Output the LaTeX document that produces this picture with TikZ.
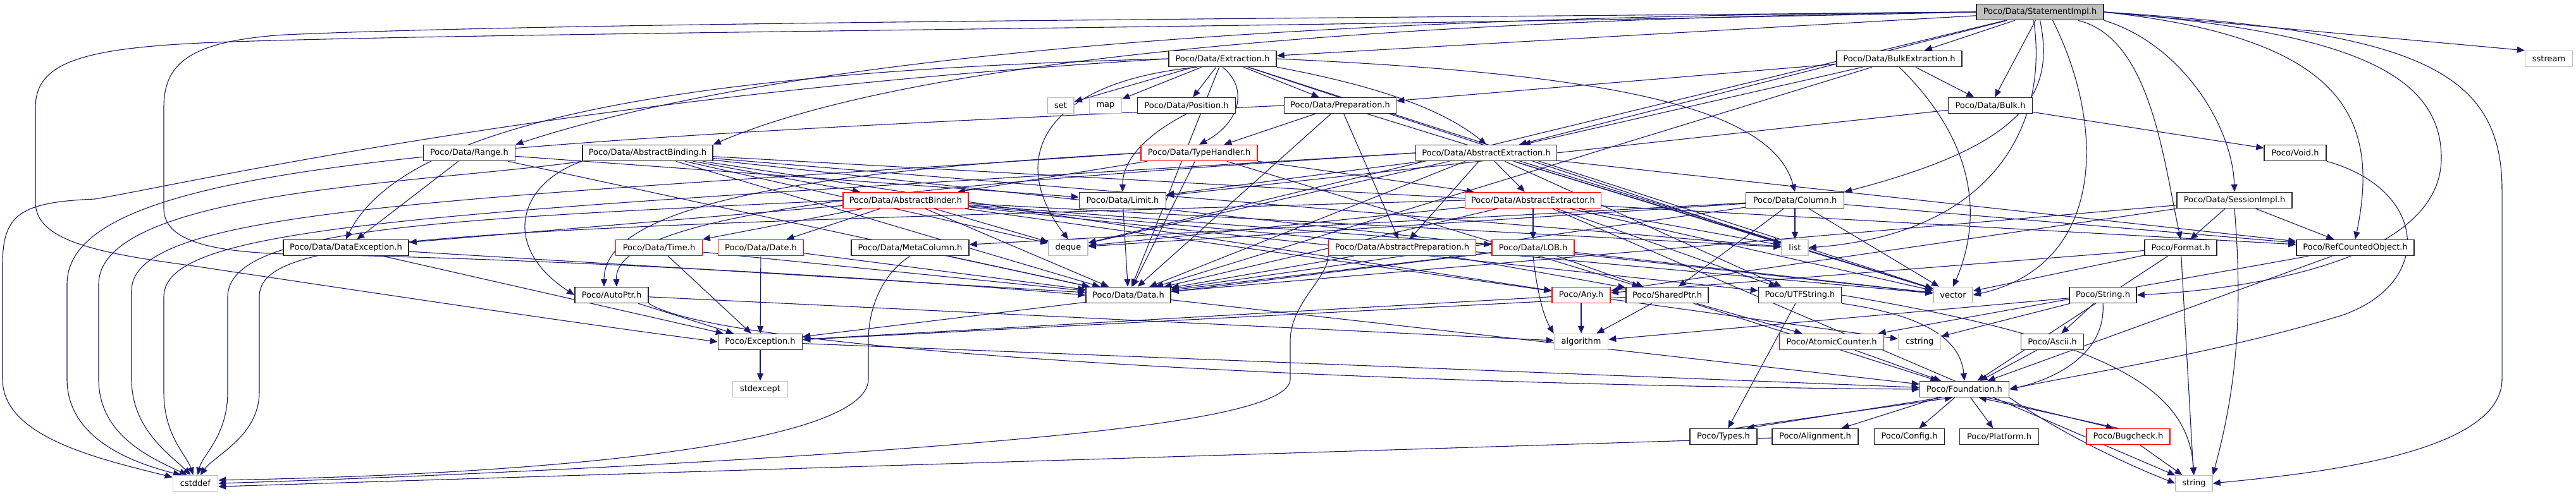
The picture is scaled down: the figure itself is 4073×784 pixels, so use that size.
\documentclass[tikz,border=0pt]{standalone}
\usepackage{fontspec}
\setmainfont{DejaVu Sans}
\usetikzlibrary{arrows.meta}
\pgfdeclarelayer{background}
\pgfsetlayers{background,main}
\definecolor{edgec}{RGB}{25,25,112}
\definecolor{leafc}{RGB}{191,191,191}
\definecolor{redc}{RGB}{255,0,0}
\begin{document}
\begin{tikzpicture}[x=0.5pt,y=-0.5pt,
  nd/.style={draw=black!85, line width=0.75pt, minimum height=12.5pt, inner sep=0pt, font=\fontsize{6.5pt}{7pt}\selectfont, fill=white},
  bx/.style={nd},
  rbx/.style={nd, draw=redc},
  lf/.style={nd, draw=leafc},
  wd/.style={minimum width=#1*0.5pt},
  e/.style={draw=edgec, line width=0.55pt, -{Triangle[length=6pt,width=5pt]}}
]
\useasboundingbox (0,0) rectangle (4073,784);
% row 0
\node[bx, fill=leafc, wd=201] (S) at (3225.5,19) {Poco/Data/StatementImpl.h};
% row 1
\node[bx, wd=170] (ext) at (1933,93) {Poco/Data/Extraction.h};
\node[bx, wd=198] (bext) at (3003,93) {Poco/Data/BulkExtraction.h};
\node[lf, wd=75] (sstream) at (4030,93) {sstream};
% row 2
\node[lf, wd=42] (set) at (1677,167) {set};
\node[lf, wd=51] (map) at (1748,167) {map};
\node[bx, wd=155] (pos) at (1876,167) {Poco/Data/Position.h};
\node[bx, wd=177] (prep) at (2119,167) {Poco/Data/Preparation.h};
\node[bx, wd=133] (bulk) at (3147,167) {Poco/Data/Bulk.h};
% row 3
\node[bx, wd=145] (range) at (742,242) {Poco/Data/Range.h};
\node[bx, wd=206] (abind) at (1024,242) {Poco/Data/AbstractBinding.h};
\node[rbx, wd=184] (th) at (1896,242) {Poco/Data/TypeHandler.h};
\node[bx, wd=223] (aext) at (2350,242) {Poco/Data/AbstractExtraction.h};
\node[bx, wd=98] (void) at (3629,242) {Poco/Void.h};
% row 4
\node[rbx, wd=198] (abinder) at (1432,317) {Poco/Data/AbstractBinder.h};
\node[bx, wd=137] (limit) at (1775,317) {Poco/Data/Limit.h};
\node[rbx, wd=215] (aextor) at (2424,317) {Poco/Data/AbstractExtractor.h};
\node[bx, wd=155] (column) at (2838,317) {Poco/Data/Column.h};
\node[bx, wd=182] (sess) at (3533,317) {Poco/Data/SessionImpl.h};
% row 5
\node[bx, wd=198] (dexc) at (547,392) {Poco/Data/DataException.h};
\node[rbx, wd=137] (time) at (1042,392) {Poco/Data/Time.h};
\node[rbx, wd=135] (date) at (1203,392) {Poco/Data/Date.h};
\node[bx, wd=186] (meta) at (1439,392) {Poco/Data/MetaColumn.h};
\node[lf, wd=62] (deque) at (1689,392) {deque};
\node[rbx, wd=233] (aprep) at (2217,392) {Poco/Data/AbstractPreparation.h};
\node[rbx, wd=130] (lob) at (2424,392) {Poco/Data/LOB.h};
\node[lf, wd=42] (list) at (2838,392) {list};
\node[bx, wd=114] (format) at (3448,392) {Poco/Format.h};
\node[bx, wd=186] (rco) at (3724,392) {Poco/RefCountedObject.h};
% row 6
\node[bx, wd=116] (autoptr) at (967,467) {Poco/AutoPtr.h};
\node[bx, wd=134] (data) at (1784,467) {Poco/Data/Data.h};
\node[rbx, wd=92] (any) at (2500,467) {Poco/Any.h};
\node[bx, wd=130] (shared) at (2636,467) {Poco/SharedPtr.h};
\node[bx, wd=131] (utf) at (2846,467) {Poco/UTFString.h};
\node[lf, wd=62] (vector) at (3088,467) {vector};
\node[bx, wd=106] (strh) at (3325,467) {Poco/String.h};
% row 7
\node[bx, wd=133] (exc) at (1202,541) {Poco/Exception.h};
\node[lf, wd=85] (algo) at (2500,541) {algorithm};
\node[rbx, wd=165] (atomic) at (2896,541) {Poco/AtomicCounter.h};
\node[lf, wd=67] (cstring) at (3035,541) {cstring};
\node[bx, wd=99] (ascii) at (3245,541) {Poco/Ascii.h};
% row 8
\node[lf, wd=87] (stdexcept) at (1202,616) {stdexcept};
\node[bx, wd=141] (found) at (3106,616) {Poco/Foundation.h};
% row 9
\node[bx, wd=106] (types) at (2725,691) {Poco/Types.h};
\node[bx, wd=136] (align) at (2870,691) {Poco/Alignment.h};
\node[bx, wd=111] (config) at (3019,691) {Poco/Config.h};
\node[bx, wd=125] (platform) at (3161,691) {Poco/Platform.h};
\node[rbx, wd=132] (bug) at (3365,691) {Poco/Bugcheck.h};
% row 10
\node[lf, wd=71] (cstddef) at (309,765) {cstddef};
\node[lf, wd=58] (string) at (3469,765) {string};

\begin{pgfonlayer}{background}
% StatementImpl
\draw[e] (S) -- (ext);
\draw[e] (S) -- (bext);
\draw[e] (S.east) -- (sstream.north west);
\draw[e] (S) -- (bulk);
\draw[e] (S.south) .. controls (3250,150) and (3200,230) .. (column.north east);
\draw[e] (S.south east) .. controls (3450,70) and (3530,200) .. (sess.north);
\draw[e] (S.east) .. controls (3700,60) and (3765,180) .. (rco.north);
\draw[e] (S.east) .. controls (3800,50) and (3956,100) .. (3956,300) -- (3956,600) .. controls (3956,720) and (3650,750) .. (string.east);
\draw[e] ([xshift=30pt]S.south) .. controls (3400,60) and (3420,250) .. (format.north);
\draw[e] (S.east) .. controls (3700,50) and (3860,110) .. (3860,250) .. controls (3860,400) and (3600,455) .. (strh.east);
\draw[e] ([xshift=10pt]S.south) .. controls (3330,200) and (3330,420) .. (vector.east);
\draw[e] ([xshift=-5pt]S.south) .. controls (3240,200) and (3150,370) .. (list.east);
\draw[e] (S) -- (aext);
\draw[e] (S.west) .. controls (2200,30) and (1450,90) .. (abind.north east);
\draw[e] (S.west) .. controls (2200,25) and (1300,70) .. (range.north east);
\draw[e] (S) -- (deque);
\draw[e] (S.west) .. controls (2000,45) and (900,50) .. (400,65) .. controls (150,72) and (56,90) .. (56,170) -- (56,320) .. controls (56,380) and (150,400) .. (300,420) .. controls (600,465) and (900,510) .. (exc.west);
\draw[e] (S.west) .. controls (2000,30) and (900,35) .. (450,55) .. controls (300,65) and (259,100) .. (259,170) -- (259,330) .. controls (259,380) and (330,398) .. (450,402) .. controls (900,410) and (1400,440) .. (data.west);
% Extraction
\draw[e] (ext) -- (set);
\draw[e] (ext) -- (map);
\draw[e] (ext) -- (pos);
\draw[e] (ext.south) .. controls (1975,140) and (1960,195) .. (th.north);
\draw[e] (ext) -- (prep);
\draw[e] (ext.south east) .. controls (2200,140) and (2290,180) .. (aext.north);
\draw[e] ([xshift=-20pt]ext.south) .. controls (1650,130) and (1590,250) .. (deque.north);
\draw[e] (ext.east) .. controls (2500,115) and (2800,160) .. (column.north);
\draw[e] (ext) -- (list);
\draw[e] (ext) -- (vector);
\draw[e] (ext.west) .. controls (1200,110) and (650,170) .. (dexc.north);
\draw[e] (ext) -- (data);
\draw[e] (ext.west) .. controls (900,150) and (300,290) .. (150,315) .. controls (30,320) and (4,340) .. (4,420) -- (4,600) .. controls (4,690) and (150,725) .. (cstddef.165);
% BulkExtraction
\draw[e] (bext) -- (bulk);
\draw[e] (bext) -- (prep);
\draw[e] (bext) -- (aext);
\draw[e] (bext) -- (data);
\draw[e] (bext.south) .. controls (3150,250) and (3120,380) .. (vector.north);
% Preparation
\draw[e] (prep) -- (aprep);
\draw[e] (prep) -- (th);
\draw[e] (prep) -- (data);
\draw[e] (prep) -- (vector);
\draw[e] (prep.west) .. controls (700,227) and (106,260) .. (106,450) -- (106,600) .. controls (106,690) and (200,730) .. (cstddef.150);
% Position, Bulk, Range
\draw[e] (pos.south) .. controls (1800,220) and (1775,260) .. (limit.north);
\draw[e] (bulk) -- (void);
\draw[e] (bulk) -- (limit);
\draw[e] (range) -- (limit);
\draw[e] (range) -- (data);
\draw[e] (range) -- (dexc);
% AbstractBinding
\draw[e] (abind) -- (abinder);
\draw[e] (abind) -- (any);
\draw[e] (abind) -- (rco);
\draw[e] (abind) -- (vector);
\draw[e] (abind) -- (list);
\draw[e] (abind) -- (deque);
\draw[e] (abind) -- (data);
\draw[e] (abind.south west) .. controls (820,290) and (790,390) .. (autoptr.west);
\draw[e] (abind.south west) .. controls (680,290) and (156,300) .. (156,450) -- (156,600) .. controls (156,690) and (240,725) .. (cstddef.135);
% TypeHandler
\draw[e] (th) -- (abinder);
\draw[e] (th) -- (aextor);
\draw[e] (th.west) .. controls (1300,270) and (955,320) .. ([xshift=-6pt]autoptr.north);
\draw[e] (th) -- (shared);
\draw[e] (th) -- (data);
\draw[e] (th.west) .. controls (700,317) and (208,330) .. (208,460) -- (208,600) .. controls (208,680) and (270,720) .. (cstddef.120);
% AbstractExtraction
\draw[e] (aext) -- (aextor);
\draw[e] (aext) -- (aprep);
\draw[e] (aext) -- (limit);
\draw[e] (aext) -- (rco);
\draw[e] (aext) -- (utf);
\draw[e] (aext.west) .. controls (1500,290) and (970,330) .. ([xshift=4pt]autoptr.north);
\draw[e] (aext) -- (vector);
\draw[e] (aext) -- (deque);
\draw[e] (aext) -- (list);
\draw[e] (aext) -- (data);
\draw[e] (aext.west) .. controls (700,337) and (259,350) .. (259,470) -- (259,620) .. controls (259,690) and (295,720) .. (cstddef.105);
% AbstractBinder
\draw[e] (abinder) -- (time);
\draw[e] (abinder) -- (date);
\draw[e] (abinder) -- (lob);
\draw[e] (abinder) -- (dexc);
\draw[e] (abinder) -- (any);
\draw[e] (abinder) -- (utf);
\draw[e] (abinder) -- (vector);
\draw[e] (abinder) -- (deque);
\draw[e] (abinder) -- (list);
\draw[e] (abinder) -- (data);
\draw[e] (abinder.west) .. controls (700,347) and (360,360) .. (360,470) -- (360,620) .. controls (360,690) and (320,720) .. (cstddef.75);
% Limit, AbstractExtractor
\draw[e] (limit) -- (data);
\draw[e] (aextor) -- (lob);
\draw[e] (aextor) -- (utf);
\draw[e] (aextor) -- (vector);
\draw[e] (aextor) -- (deque);
\draw[e] (aextor) -- (list);
\draw[e] (aextor) -- (string);
\draw[e] (aextor) -- (data);
\draw[e] (aextor.west) .. controls (700,363) and (410,370) .. (410,470) -- (410,620) .. controls (410,690) and (340,720) .. (cstddef.60);
% Column
\draw[e] (column) -- (list);
\draw[e] (column) -- (meta);
\draw[e] (column) -- (shared);
\draw[e] (column) -- (rco);
\draw[e] (column) -- (vector);
\draw[e] (column) -- (deque);
\draw[e] (column) -- (data);
% SessionImpl
\draw[e] (sess) -- (format);
\draw[e] (sess) -- (rco);
\draw[e] (sess) -- (any);
\draw[e] (sess) -- (data);
\draw[e] (sess.south) .. controls (3545,480) and (3540,600) .. (string.north east);
% row 5 sources
\draw[e] (dexc) -- (data);
\draw[e] (dexc) -- (exc);
\draw[e] (time) -- (exc);
\draw[e] (time) -- (data);
\draw[e] (date) -- (exc);
\draw[e] (date) -- (data);
\draw[e] (meta) -- (data);
\draw[e] (meta.south) .. controls (1400,430) and (1373,480) .. (1373,540) -- (1373,600) .. controls (1373,700) and (900,750) .. (cstddef.8);
\draw[e] (aprep) -- (data);
\draw[e] (aprep) -- (shared);
\draw[e] (aprep.south west) .. controls (2100,440) and (2040,480) .. (2040,540) -- (2040,600) .. controls (2040,660) and (1700,690) .. (1360,715) .. controls (1000,740) and (600,757) .. (cstddef.east);
\draw[e] (lob.south) .. controls (2430,460) and (2440,500) .. (algo.north west);
\draw[e] (lob) -- (shared);
\draw[e] (lob) -- (exc);
\draw[e] (lob) -- (vector);
\draw[e] (lob) -- (data);
\draw[e] (rco) -- (found);
\draw[e] (rco) -- (atomic);
\draw[e] (format) -- (found);
\draw[e] (format) -- (any);
\draw[e] (format) -- (vector);
\draw[e] (format) -- (string);
% row 6 sources
\draw[e] (autoptr) -- (exc);
\draw[e] (autoptr) -- (algo);
\draw[e] (autoptr.south east) .. controls (1150,560) and (2200,610) .. (found.west);
\draw[e] (data) -- (found);
\draw[e] (any) -- (algo);
\draw[e] (any) -- (exc);
\draw[e] (any) -- (cstring);
\draw[e] (shared) -- (found);
\draw[e] (shared) -- (exc);
\draw[e] (shared) -- (atomic);
\draw[e] (shared) -- (algo);
\draw[e] (utf.south east) .. controls (3050,500) and (3100,540) .. (found.north);
\draw[e] (utf) -- (types);
\draw[e] (utf.east) .. controls (3350,540) and (3460,620) .. (string.north);
\draw[e] (strh.south) .. controls (3330,560) and (3250,600) .. (found.east);
\draw[e] (strh) -- (ascii);
\draw[e] (strh) -- (cstring);
\draw[e] (strh) -- (algo);
% lower rows
\draw[e] (exc) -- (found);
\draw[e] (exc) -- (stdexcept);
\draw[e] (atomic) -- (found);
\draw[e] (ascii) -- (found);
\draw[e] (void.south east) .. controls (3840,300) and (3850,450) .. (3700,500) .. controls (3500,560) and (3300,590) .. (found.east);
\draw[e] (found) -- (config);
\draw[e] (found) -- (platform);
\draw[e] (found) -- (align);
\draw[e] (found.200) -- (types.20);
\draw[e] (types.35) -- (found.215);
\draw[e] (found.-20) -- (bug.150);
\draw[e] (bug.140) -- (found.-30);
\draw[e] (found.south east) .. controls (3250,680) and (3350,730) .. (string.west);
\draw[e] (bug) -- (string);
\draw[e] (align) -- (cstddef.-8);
\end{pgfonlayer}
\end{tikzpicture}
\end{document}
